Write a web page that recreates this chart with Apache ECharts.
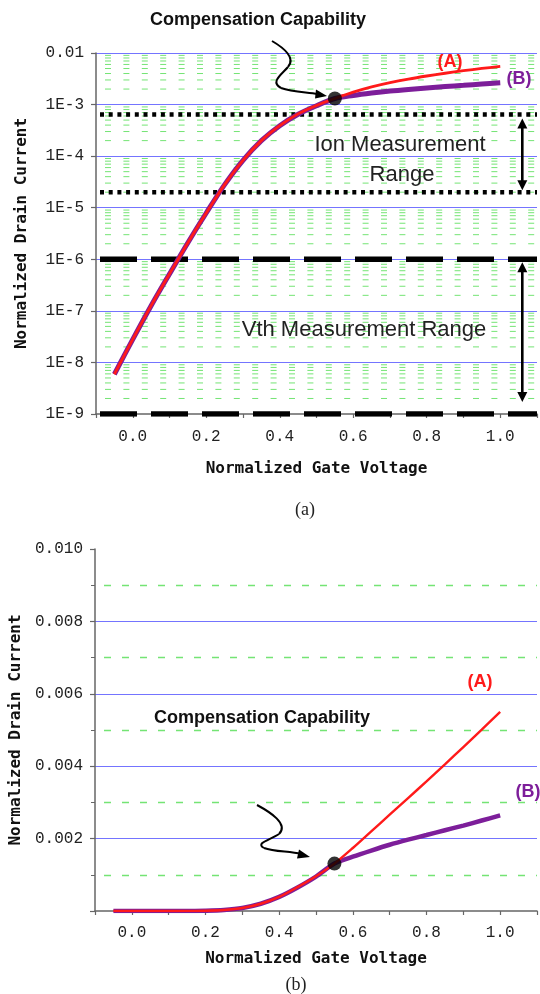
<!DOCTYPE html>
<html>
<head>
<meta charset="utf-8">
<script src="https://cdn.jsdelivr.net/npm/echarts@6/dist/echarts.min.js"></script>
<style>
html, body { margin: 0; padding: 0; background: #ffffff; }
#chart { width: 540px; height: 994px; }
</style>
</head>
<body>
<div id="chart"></div>
<script>
// Normalized gate voltage sweep
const voltage = [-0.05, 0.00, 0.05, 0.10, 0.15, 0.20, 0.25, 0.30, 0.35, 0.40, 0.45, 0.50,
                 0.55, 0.60, 0.65, 0.70, 0.75, 0.80, 0.85, 0.90, 0.95, 1.00];
// Drain current, curve (A)
const currentA = [5.9e-9, 2.8e-8, 1.26e-7, 5.2e-7, 2.1e-6, 7.9e-6, 2.8e-5, 8.3e-5, 2.0e-4, 3.9e-4, 6.6e-4, 9.6e-4,
                  1.31e-3, 1.74e-3, 2.20e-3, 2.66e-3, 3.12e-3, 3.58e-3, 4.05e-3, 4.53e-3, 5.01e-3, 5.50e-3];
// Drain current, curve (B)
const currentB = [5.9e-9, 2.8e-8, 1.26e-7, 5.2e-7, 2.1e-6, 7.9e-6, 2.8e-5, 8.3e-5, 2.0e-4, 3.9e-4, 6.5e-4, 9.5e-4,
                  1.31e-3, 1.50e-3, 1.67e-3, 1.83e-3, 1.97e-3, 2.10e-3, 2.23e-3, 2.36e-3, 2.50e-3, 2.64e-3];
// Point where the two curves separate
const compPoint = [0.55, 1.31e-3];

// Measurement windows on the log plot
const ionRange = [2.0e-5, 6.4e-4];
const vthRange = [1.0e-9, 1.0e-6];

// Voltage axis span
const vMin = -0.1, vMax = 1.1;

// Minor log grid values (2..9 per decade)
const logMinor = [];
for (let e = -9; e <= -3; e++) {
  for (let m = 2; m <= 9; m++) logMinor.push(m * Math.pow(10, e));
}

const pairsA = voltage.map((v, i) => [v, currentA[i]]);
const pairsB = voltage.map((v, i) => [v, currentB[i]]);

const RED = '#ff1a1a';
const PURPLE = '#7d1e9a';
const BLUE = '#7474ff';
const GREEN = '#74e474';
const AXIS = '#666666';
const TICK_FONT = 'Liberation Mono';
const TITLE_FONT = 'DejaVu Sans Mono';

const chart = echarts.init(document.getElementById('chart'), null, { renderer: 'canvas' });

function xLabel(v) {
  const k = Math.round(v * 10);
  return (k >= 0 && k <= 10 && k % 2 === 0) ? (k / 10).toFixed(1) : '';
}

function xAxisCfg(gridIndex, gap, margin) {
  return {
    type: 'value', gridIndex: gridIndex, min: vMin, max: vMax, interval: 0.1,
    name: 'Normalized Gate Voltage', nameLocation: 'middle', nameGap: gap,
    nameTextStyle: { fontFamily: TITLE_FONT, fontWeight: 'bold', fontSize: 16, color: '#111' },
    axisLine: { show: true, onZero: false, lineStyle: { color: AXIS, width: 1.5 } },
    axisTick: { show: true, inside: false, length: 4, lineStyle: { color: AXIS, width: 1.2 } },
    axisLabel: { formatter: xLabel, fontFamily: TICK_FONT, fontSize: 16, color: '#222', margin: margin },
    splitLine: { show: false }
  };
}

// One horizontal reference line across the whole log plot
function hLine(value, style, z) {
  return {
    type: 'line', xAxisIndex: 0, yAxisIndex: 0, silent: true, z: z,
    symbol: 'none', showSymbol: false,
    data: [[vMin, value], [vMax, value]],
    lineStyle: style
  };
}

const series = [];
logMinor.forEach(v => series.push(hLine(v, { color: GREEN, width: 1, type: [6, 12.4], dashOffset: 9.4 }, 1)));
ionRange.forEach(v => series.push(hLine(v, { color: '#000', width: 4.5, type: [4, 4.7], dashOffset: 4.7, cap: 'butt' }, 2)));
vthRange.forEach(v => series.push(hLine(v, { color: '#000', width: 5.5, type: [37, 14], dashOffset: 47, cap: 'butt' }, 2)));

series.push(
  {
    name: '(B)', type: 'line', xAxisIndex: 0, yAxisIndex: 0, data: pairsB,
    smooth: 0.3, showSymbol: false, lineStyle: { color: PURPLE, width: 5 }, z: 3
  },
  {
    name: '(A)', type: 'line', xAxisIndex: 0, yAxisIndex: 0, data: pairsA,
    smooth: 0.3, showSymbol: false, lineStyle: { color: RED, width: 2.8 }, z: 4
  },
  {
    type: 'scatter', xAxisIndex: 0, yAxisIndex: 0, data: [compPoint],
    symbolSize: 14, itemStyle: { color: '#000' }, z: 5
  },
  {
    name: '(B)', type: 'line', xAxisIndex: 1, yAxisIndex: 1, data: pairsB,
    smooth: 0.3, showSymbol: false, lineStyle: { color: PURPLE, width: 4.5 }, z: 3
  },
  {
    name: '(A)', type: 'line', xAxisIndex: 1, yAxisIndex: 1, data: pairsA,
    smooth: 0.3, showSymbol: false, lineStyle: { color: RED, width: 2.4 }, z: 4
  },
  {
    type: 'scatter', xAxisIndex: 1, yAxisIndex: 1, data: [compPoint],
    symbolSize: 14, itemStyle: { color: '#000' }, z: 5
  }
);

const option = {
  animation: false,
  backgroundColor: '#ffffff',
  grid: [
    { left: 96, right: 3, top: 53, height: 361 },
    { left: 95, right: 3, top: 549, height: 362 }
  ],
  xAxis: [ xAxisCfg(0, 47, 15), xAxisCfg(1, 40, 14) ],
  yAxis: [
    {
      type: 'log', gridIndex: 0, logBase: 10, min: 1e-9, max: 1e-2,
      name: 'Normalized Drain Current', nameLocation: 'middle', nameGap: 66,
      nameTextStyle: { fontFamily: TITLE_FONT, fontWeight: 'bold', fontSize: 16, color: '#111' },
      axisLine: { show: true, onZero: false, lineStyle: { color: AXIS, width: 1.5 } },
      axisTick: { show: true, length: 5, lineStyle: { color: AXIS, width: 1.2 } },
      axisLabel: {
        fontFamily: TICK_FONT, fontSize: 16, color: '#222', margin: 12,
        formatter: v => v >= 0.0099 ? '0.01' : '1E-' + Math.round(-Math.log10(v))
      },
      splitLine: { show: true, showMinLine: false, showMaxLine: false, lineStyle: { color: BLUE, width: 1 } }
    },
    {
      type: 'value', gridIndex: 1, min: 0, max: 0.01, interval: 0.002,
      name: 'Normalized Drain Current', nameLocation: 'middle', nameGap: 70,
      nameTextStyle: { fontFamily: TITLE_FONT, fontWeight: 'bold', fontSize: 16, color: '#111' },
      axisLine: { show: true, onZero: false, lineStyle: { color: AXIS, width: 1.5 } },
      axisTick: { show: true, length: 5, lineStyle: { color: AXIS, width: 1.2 } },
      minorTick: { show: true, splitNumber: 2, length: 4, lineStyle: { color: AXIS, width: 1 } },
      minorSplitLine: { show: true, lineStyle: { color: GREEN, width: 1.3, type: [7, 11], dashOffset: 9 } },
      axisLabel: {
        fontFamily: TICK_FONT, fontSize: 16, color: '#222', margin: 12,
        formatter: v => v === 0 ? '' : v.toFixed(3)
      },
      splitLine: { show: true, showMinLine: false, showMaxLine: false, lineStyle: { color: BLUE, width: 1 } }
    }
  ],
  series: series
};

chart.setOption(option);

// Annotations placed from the axis scales
const yTop = v => chart.convertToPixel({ yAxisIndex: 0 }, v);
const arrowX = chart.convertToPixel({ xAxisIndex: 0 }, 1.06);
const Z = 100;

function doubleArrow(x, y1, y2) {
  const h = 10, w = 5;
  return [
    { type: 'line', z: Z, shape: { x1: x, y1: y1 + h - 1, x2: x, y2: y2 - h + 1 }, style: { stroke: '#000', lineWidth: 2.6 } },
    { type: 'polygon', z: Z, shape: { points: [[x, y1], [x - w, y1 + h], [x + w, y1 + h]] }, style: { fill: '#000' } },
    { type: 'polygon', z: Z, shape: { points: [[x, y2], [x - w, y2 - h], [x + w, y2 - h]] }, style: { fill: '#000' } }
  ];
}

function curlyArrow(p, tip) {
  const els = [];
  p.forEach(seg => {
    els.push({
      type: 'bezierCurve', z: Z,
      shape: { x1: seg[0], y1: seg[1], cpx1: seg[2], cpy1: seg[3], cpx2: seg[4], cpy2: seg[5], x2: seg[6], y2: seg[7] },
      style: { stroke: '#000', lineWidth: 2, fill: null }
    });
  });
  els.push({ type: 'polygon', z: Z, shape: { points: tip }, style: { fill: '#000' } });
  return els;
}

function label(text, x, y, font, color, align) {
  return {
    type: 'text', x: x, y: y, z: Z,
    style: { text: text, font: font, fill: color, align: align || 'center', verticalAlign: 'middle' }
  };
}

const BOLD_SANS = 'bold 18px "Liberation Sans", Arial, sans-serif';
const PLAIN_SANS = '22px "Liberation Sans", Arial, sans-serif';
const TAG = 'bold 18px "Liberation Sans", Arial, sans-serif';
const CAPTION = '18px "Liberation Serif", "Times New Roman", serif';

const elements = [].concat(
  [label('Compensation Capability', 258, 20, BOLD_SANS, '#111')],
  curlyArrow([
    [272, 41, 284, 48, 296, 58, 288, 67],
    [288, 67, 281, 75, 270, 82, 281, 88],
    [281, 88, 292, 92, 305, 92, 318, 94]
  ], [[327, 96], [316, 89.5], [315, 98.5]]),
  [label('(A)', 450, 62, TAG, RED), label('(B)', 519, 79, TAG, PURPLE)],
  [label('Ion Measurement', 400, 145, PLAIN_SANS, '#222'), label('Range', 402, 175, PLAIN_SANS, '#222')],
  doubleArrow(arrowX, yTop(ionRange[1]) + 4, yTop(ionRange[0]) - 2),
  [label('Vth Measurement Range', 364, 330, PLAIN_SANS, '#222')],
  doubleArrow(arrowX, yTop(vthRange[1]) + 3, yTop(vthRange[0]) - 12),
  [label('(a)', 305, 510, CAPTION, '#222')],
  [label('Compensation Capability', 262, 718, BOLD_SANS, '#111')],
  curlyArrow([
    [257, 805, 270, 812, 289, 824, 279, 834],
    [279, 834, 270, 840, 255, 843, 264, 848],
    [264, 848, 275, 852, 290, 851, 301, 854]
  ], [[310, 857], [299, 849.5], [297, 858.5]]),
  [label('(A)', 480, 682, TAG, RED), label('(B)', 528, 792, TAG, PURPLE)],
  [label('(b)', 296, 985, CAPTION, '#222')]
);

chart.setOption({ graphic: { elements: elements } });
</script>
</body>
</html>
